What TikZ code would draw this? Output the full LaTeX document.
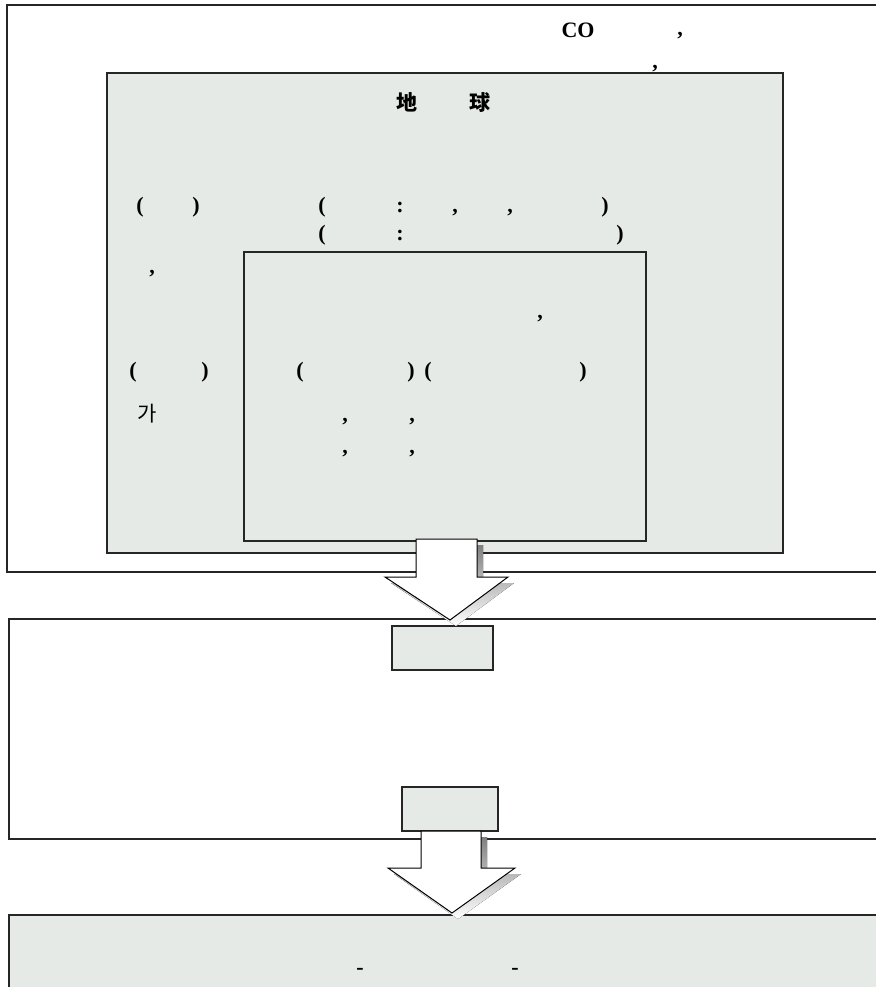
\documentclass[tikz,border=0pt]{standalone}
\usepackage{fontspec}
\setmainfont{Liberation Serif}
\newfontfamily\krfont{Noto Sans CJK KR}
\usepackage{xcolor}
\definecolor{boxfill}{HTML}{E6EAE6}
\definecolor{shade}{HTML}{3C3C3C}

\begin{document}
\begin{tikzpicture}[x=1pt,y=1pt]
\tikzstyle{every node}+=[inner sep=0pt, anchor=base, font=\fontsize{22}{24}\selectfont\bfseries]
\tikzstyle{kr}=[font=\fontsize{21}{24}\selectfont\krfont]
\tikzstyle{box}=[draw=black!85, line width=1.2pt]
\tikzstyle{greybox}=[box, fill=boxfill]
\useasboundingbox (0,0) rectangle (875,-987);
% frames
\draw [box] (7,-5) rectangle (885,-572);
\draw [greybox] (107,-73) rectangle (783,-553);
\draw [greybox] (244,-252) rectangle (646,-541);
\draw [box] (9,-619) rectangle (885,-839);
\draw [greybox] (392,-626) rectangle (493,-670);
\draw [greybox] (402,-787) rectangle (498,-831);
\draw [greybox] (9,-915) rectangle (885,-995);
% block arrows
\fill [shade] (422,-545) -- (483,-545) -- (483,-583) -- (514,-583) -- (456,-626) -- (391,-583) -- (422,-583) -- cycle;
\draw [black, fill=white, line width=1pt] (416,-539) -- (477,-539) -- (477,-577) -- (508,-577) -- (450,-620) -- (385,-577) -- (416,-577) -- cycle;
\fill [shade] (427,-837) -- (487,-837) -- (487,-874) -- (521,-874) -- (458,-919) -- (394,-874) -- (427,-874) -- cycle;
\draw [black, fill=white, line width=1pt] (421,-831) -- (481,-831) -- (481,-868) -- (515,-868) -- (452,-913) -- (388,-868) -- (421,-868) -- cycle;
% top texts
\draw (578,-38) node {CO};
\draw (680,-36) node {,};
\draw (655,-69) node {,};
\draw (407,-111) node [kr] {\bfseries 地};
\draw (480,-111) node [kr] {\bfseries 球};
% earth box texts
\draw (140,-212) node {(};
\draw (196,-212) node {)};
\draw (322,-212) node {(};
\draw (400,-212) node {:};
\draw (455,-212) node {,};
\draw (510,-212) node {,};
\draw (605,-212) node {)};
\draw (322,-240) node {(};
\draw (400,-240) node {:};
\draw (620,-240) node {)};
\draw (152,-273) node {,};
\draw (540,-318) node {,};
\draw (133,-377) node {(};
\draw (205,-377) node {)};
\draw (147,-421) node [kr] {가};
% inner box texts
\draw (300,-377) node {(};
\draw (411,-377) node {)};
\draw (428,-377) node {(};
\draw (583,-377) node {)};
\draw (345,-421) node {,};
\draw (412,-421) node {,};
\draw (345,-453) node {,};
\draw (412,-453) node {,};
% bottom texts
\draw (360,-974) node {-};
\draw (515,-974) node {-};
\end{tikzpicture}
\end{document}
